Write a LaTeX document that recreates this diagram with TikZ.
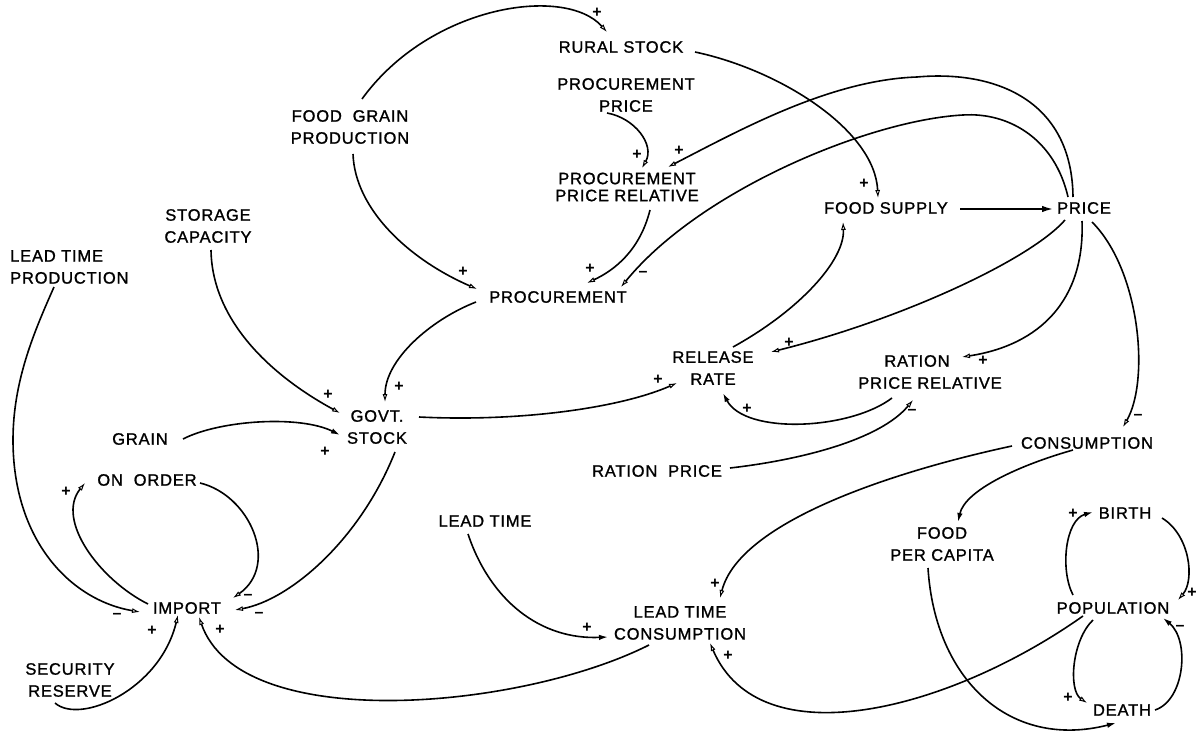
\documentclass[tikz,border=0pt]{standalone}
\usepackage{fontspec}
\setmainfont{Liberation Sans}
\newfontfamily\labfont[LetterSpace=5,FakeBold=1.2]{Liberation Sans}
\usetikzlibrary{arrows.meta,calc}
\begin{document}
\begin{tikzpicture}[x=1pt,y=-1pt,
  lab/.style={font={\labfont\fontsize{16.5}{22}\selectfont}, inner sep=0pt, align=center},
  labtight/.style={font={\labfont\fontsize{16.5}{17}\selectfont}, inner sep=0pt, align=center},
  sgn/.style={font={\fontsize{16}{16}\selectfont\bfseries}, inner sep=0pt},
  link/.style={line width=1.6pt, -{Latex[open,length=8pt,width=5pt,line width=1pt]}},
  flink/.style={line width=1.6pt, -{Latex[length=9pt,width=5.5pt]}}]
\useasboundingbox (0,0) rectangle (1199,738);

% ---------- nodes ----------
\node[lab] (rural) at (621,47) {RURAL STOCK};
\node[lab] (pp) at (626,95) {PROCUREMENT\\PRICE};
\node[labtight] (ppr) at (627,187) {PROCUREMENT\\PRICE RELATIVE};
\node[lab] (fgp) at (350,127) {FOOD\ \ GRAIN\\PRODUCTION};
\node[lab] (stor) at (208,226) {STORAGE\\CAPACITY};
\node[lab,align=left,anchor=west] (ltp) at (10,267) {LEAD TIME\\PRODUCTION};
\node[lab] (proc) at (558,297) {PROCUREMENT};
\node[lab] (fs) at (886,208) {FOOD SUPPLY};
\node[lab] (price) at (1084,208) {PRICE};
\node[lab] (rr) at (713,368) {RELEASE\\RATE};
\node[lab] (rpr) at (930,372) {RATION\hspace*{26pt}\\PRICE RELATIVE};
\node[lab] (govt) at (377,427) {GOVT.\\STOCK};
\node[lab] (grain) at (140,439) {GRAIN};
\node[lab] (cons) at (1087,443) {CONSUMPTION};
\node[lab] (rp) at (657,471) {RATION\ \ PRICE};
\node[lab] (onorder) at (147,480) {ON\ \ ORDER};
\node[lab] (lt) at (485,521) {LEAD TIME};
\node[lab] (fpc) at (942,544) {FOOD\\PER CAPITA};
\node[lab] (birth) at (1125,513) {BIRTH};
\node[lab] (pop) at (1113,608) {POPULATION};
\node[lab] (ltc) at (680,623) {LEAD TIME\\CONSUMPTION};
\node[lab] (import) at (187,608) {IMPORT};
\node[lab] (sec) at (70,680) {SECURITY\\RESERVE};
\node[lab] (death) at (1122,710) {DEATH};

% ---------- connectors ----------
% food grain production -> rural stock
\draw[link] ($(fgp)+(12,-28)$) .. controls (430,5) and (565,-15) .. ($(rural)+(-14,-15)$);
% food grain production -> procurement
\draw[link] ($(fgp)+(3,27)$) .. controls (355,210) and (410,260) .. ($(proc)+(-81,-8)$);
% storage capacity -> govt stock
\draw[link] ($(stor)+(3,24)$) .. controls (212,320) and (270,375) .. ($(govt)+(-37,-14)$);
% lead time production -> import
\draw[link] ($(ltp.west)+(44,20)$) .. controls (35,330) and (13,380) .. (13,440)
   .. controls (13,540) and (70,600) .. ($(import)+(-47,4)$);
% procurement -> govt stock
\draw[link] ($(proc)+(-82,5)$) .. controls (430,320) and (385,360) .. ($(govt)+(8,-25)$);
% rural stock -> food supply
\draw[link] ($(rural)+(74,5)$) .. controls (780,70) and (875,130) .. ($(fs)+(-8,-10)$);
% procurement price -> procurement price relative
\draw[link] ($(pp)+(-19,18)$) .. controls (635,118) and (655,145) .. ($(ppr)+(15,-19)$);
% price -> procurement price relative (outer arc)
\draw[link] ($(price)+(-11,-11)$) .. controls (1072,100) and (995,70) .. (917,77)
   .. controls (830,80) and (740,130) .. ($(ppr)+(41,-20)$);
% price -> procurement (inner arc)
\draw[link] ($(price)+(-16,-11)$) .. controls (1055,140) and (1010,112) .. (963,115)
   .. controls (870,120) and (700,190) .. ($(proc)+(63,-10)$);
% procurement price relative -> procurement
\draw[link] ($(ppr)+(23,23)$) .. controls (640,250) and (615,270) .. ($(proc)+(29,-14)$);
% food supply -> price
\draw[line width=1.6pt,-{Latex[length=11pt,width=6.5pt]}] ($(fs)+(74,1)$) -- ($(price)+(-31,1)$);
% price -> release rate
\draw[link] ($(price)+(-19,12)$) .. controls (1030,260) and (900,320) .. ($(rr)+(58,-16)$);
% price -> ration price relative
\draw[link] ($(price)+(-2,13)$) .. controls (1085,300) and (1040,345) .. ($(rpr)+(32,-15)$);
% price -> consumption
\draw[link] ($(price)+(8,14)$) .. controls (1140,270) and (1150,380) .. ($(cons)+(36,-16)$);
% release rate -> food supply
\draw[link] ($(rr)+(20,-21)$) .. controls (800,310) and (845,260) .. ($(fs)+(-43,14)$);
% govt stock -> release rate
\draw[link] ($(govt)+(42,-10)$) .. controls (520,422) and (620,408) .. ($(rr)+(-36,15)$);
% ration price relative -> release rate
\draw[flink] ($(rpr)+(-38,26)$) .. controls (850,430) and (745,435) .. ($(rr)+(10,25)$);
% ration price -> ration price relative
\draw[link] ($(rp)+(73,-3)$) .. controls (800,460) and (880,440) .. ($(rpr)+(-17,28)$);
% consumption -> lead time consumption
\draw[link] ($(cons)+(-75,3)$) .. controls (900,470) and (740,520) .. ($(ltc)+(40,-25)$);
% consumption -> food per capita
\draw[flink] ($(cons)+(-14,7)$) .. controls (1020,465) and (965,490) .. ($(fpc)+(16,-22)$);
% food per capita -> death
\draw[flink] ($(fpc)+(-14,24)$) .. controls (935,680) and (1010,750) .. ($(death)+(-6,13)$);
% population -> birth
\draw[flink] ($(pop)+(-40,-13)$) .. controls (1060,570) and (1065,520) .. ($(birth)+(-32,-1)$);
% birth -> population
\draw[link] ($(birth)+(37,5)$) .. controls (1190,535) and (1195,580) .. ($(pop)+(65,-8)$);
% population -> death
\draw[link] ($(pop)+(-20,12)$) .. controls (1072,640) and (1068,690) .. ($(death)+(-35,-7)$);
% death -> population
\draw[flink] ($(death)+(33,0)$) .. controls (1185,700) and (1190,640) .. ($(pop)+(50,10)$);
% population -> lead time consumption
\draw[link] ($(pop)+(-30,8)$) .. controls (950,710) and (760,760) .. ($(ltc)+(30,20)$);
% lead time -> lead time consumption
\draw[flink] ($(lt)+(-17,13)$) .. controls (490,600) and (540,640) .. ($(ltc)+(-72,14)$);
% lead time consumption -> import
\draw[link] ($(ltc)+(-31,22)$) .. controls (520,710) and (240,735) .. ($(import)+(12,9)$);
% import -> on order
\draw[link] ($(import)+(-39,-4)$) .. controls (100,580) and (55,520) .. ($(onorder)+(-62,3)$);
% on order -> import
\draw[link] ($(onorder)+(53,3)$) .. controls (250,495) and (280,565) .. ($(import)+(46,-10)$);
% govt stock -> import
\draw[link] ($(govt)+(18,25)$) .. controls (360,540) and (290,600) .. ($(import)+(48,2)$);
% security reserve -> import
\draw[link] ($(sec)+(-15,23)$) .. controls (80,725) and (160,690) .. ($(import)+(-9,7)$);
% grain -> govt stock
\draw[flink] ($(grain)+(43,0)$) .. controls (220,420) and (300,415) .. ($(govt)+(-37,8)$);

% ---------- signs ----------
\node[sgn] (s1) at (597,13) {+};
\node[sgn] (s2) at (463,272) {+};
\node[sgn] (s3) at (328,395) {+};
\node[sgn] (s4) at (117,616) {--};
\node[sgn] (s5) at (399,387) {+};
\node[sgn] (s6) at (864,184) {+};
\node[sgn] (s7) at (637,155) {+};
\node[sgn] (s8) at (679,151) {+};
\node[sgn] (s9) at (643,274) {--};
\node[sgn] (s10) at (590,269) {+};
\node[sgn] (s12) at (789,343) {+};
\node[sgn] (s13) at (983,361) {+};
\node[sgn] (s14) at (1138,417) {--};
\node[sgn] (s16) at (658,380) {+};
\node[sgn] (s17) at (747,409) {+};
\node[sgn] (s18) at (912,412) {--};
\node[sgn] (s19) at (715,584) {+};
\node[sgn] (s22) at (1073,514) {+};
\node[sgn] (s23) at (1192,593) {+};
\node[sgn] (s24) at (1068,698) {+};
\node[sgn] (s25) at (1180,628) {--};
\node[sgn] (s26) at (728,656) {+};
\node[sgn] (s27) at (587,628) {+};
\node[sgn] (s28) at (220,630) {+};
\node[sgn] (s29) at (66,492) {+};
\node[sgn] (s30) at (248,597) {--};
\node[sgn] (s31) at (259,615) {--};
\node[sgn] (s32) at (152,631) {+};
\node[sgn] (s33) at (325,452) {+};
\end{tikzpicture}
\end{document}
